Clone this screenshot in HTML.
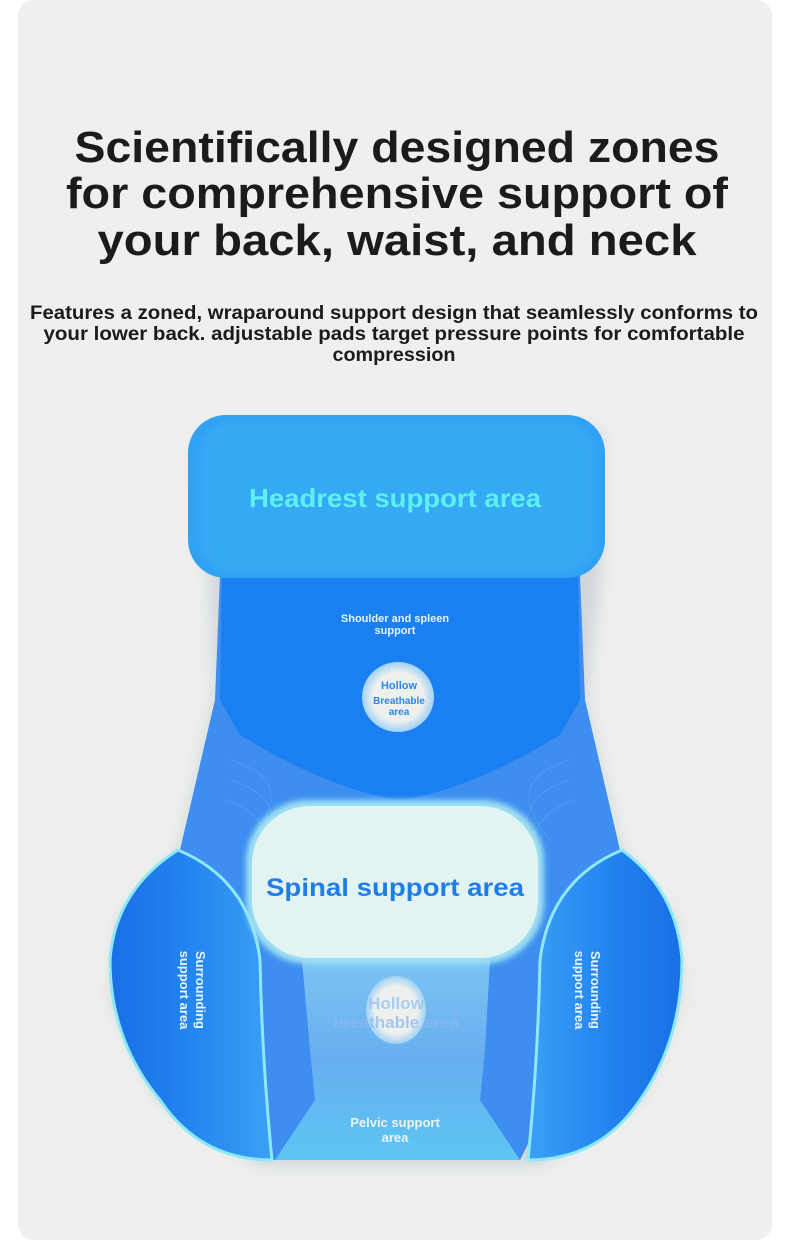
<!DOCTYPE html>
<html><head><meta charset="utf-8"><style>
html,body{margin:0;padding:0;background:#fff;}
svg{display:block}
text{font-family:"Liberation Sans",sans-serif;font-weight:bold}
</style></head><body>
<svg width="790" height="1242" viewBox="0 0 790 1242" xmlns="http://www.w3.org/2000/svg">
<defs>
<filter id="blur" x="-20%" y="-20%" width="140%" height="140%"><feGaussianBlur stdDeviation="8"/></filter>
<filter id="b3"><feGaussianBlur stdDeviation="3"/></filter>
<radialGradient id="hole" cx="50%" cy="50%" r="50%"><stop offset="0.7" stop-color="#eef0ee"/><stop offset="1" stop-color="#9fd2f5"/></radialGradient>
<linearGradient id="pelv" x1="0" y1="0" x2="0" y2="1"><stop offset="0" stop-color="#7cc4f4"/><stop offset="0.5" stop-color="#67aef0"/><stop offset="1" stop-color="#5cc6f2"/></linearGradient>
<linearGradient id="wing" x1="0" y1="0" x2="1" y2="0"><stop offset="0" stop-color="#1a6fe6"/><stop offset="0.4" stop-color="#1f80ee"/><stop offset="1" stop-color="#3aa0f5"/></linearGradient>
<linearGradient id="wingR" x1="1" y1="0" x2="0" y2="0"><stop offset="0" stop-color="#1a6fe6"/><stop offset="0.4" stop-color="#1f80ee"/><stop offset="1" stop-color="#3aa0f5"/></linearGradient>
</defs>
<rect x="18" y="0" width="754" height="1240" rx="16" fill="#eeefee"/>
<text x="397" y="162" font-size="44" text-anchor="middle" fill="#1b1b1b" textLength="645" lengthAdjust="spacingAndGlyphs">Scientifically designed zones</text>
<text x="397" y="208" font-size="44" text-anchor="middle" fill="#1b1b1b" textLength="662" lengthAdjust="spacingAndGlyphs">for comprehensive support of</text>
<text x="397" y="255" font-size="44" text-anchor="middle" fill="#1b1b1b" textLength="599" lengthAdjust="spacingAndGlyphs">your back, waist, and neck</text>
<text x="394" y="319" font-size="19" text-anchor="middle" fill="#1b1b1b" textLength="728" lengthAdjust="spacingAndGlyphs">Features a zoned, wraparound support design that seamlessly conforms to</text>
<text x="394" y="340" font-size="19" text-anchor="middle" fill="#1b1b1b" textLength="701" lengthAdjust="spacingAndGlyphs">your lower back. adjustable pads target pressure points for comfortable</text>
<text x="394" y="361" font-size="19" text-anchor="middle" fill="#1b1b1b" textLength="123" lengthAdjust="spacingAndGlyphs">compression</text>

<path d="M200 430 H600 V580 L585 700 L620 850 L675 920 L680 1000 L640 1100 L540 1165 H260 L160 1100 L112 1000 L120 920 L180 850 L215 700 L210 580 Z" fill="#b9c4cc" filter="url(#blur)" opacity="0.6"/>
<path d="M220 575 H580 L585 700 L620 850 L600 1000 L520 1160 H270 L190 1000 L180 850 L215 700 Z" fill="#3d8ef0"/>
<path d="M222 575 H578 L580 700 L560 735 Q470 790 400 800 Q330 790 240 735 L220 700 Z" fill="#1a7ff0"/>
<g stroke="#5aa4f5" stroke-width="1" fill="none" opacity="0.6">
<path d="M230 760 Q300 780 250 840"/><path d="M230 780 Q300 800 255 870"/><path d="M225 800 Q290 820 260 900"/>
<path d="M570 760 Q500 780 550 840"/><path d="M570 780 Q500 800 545 870"/><path d="M575 800 Q510 820 540 900"/>
</g>
<ellipse cx="398" cy="697" rx="36" ry="35" fill="url(#hole)"/>
<text x="399" y="689" font-size="11" text-anchor="middle" fill="#2a86e8" font-weight="normal">Hollow</text>
<text x="399" y="704" font-size="10" text-anchor="middle" fill="#2a86e8">Breathable</text>
<text x="399" y="715" font-size="10" text-anchor="middle" fill="#2a86e8">area</text>
<text x="395" y="622" font-size="11" text-anchor="middle" fill="#e8f4ff">Shoulder and spleen</text>
<text x="395" y="634" font-size="11" text-anchor="middle" fill="#e8f4ff">support</text>
<rect x="188" y="415" width="417" height="163" rx="38" fill="#30a2f3"/>
<rect x="200" y="422" width="395" height="150" rx="32" fill="#3cb0f6" opacity="0.5" filter="url(#b3)"/>
<text x="395" y="507" font-size="26" text-anchor="middle" fill="#5ef0f0" textLength="292" lengthAdjust="spacingAndGlyphs">Headrest support area</text>
<path d="M302 960 H490 L485 1050 L480 1100 L520 1160 H275 L315 1100 L310 1050 Z" fill="url(#pelv)"/>
<ellipse cx="396" cy="1010" rx="30" ry="34" fill="url(#hole)"/>
<text x="396" y="1009" font-size="17" text-anchor="middle" fill="#9dc6f2" opacity="0.85">Hollow</text>
<text x="396" y="1028" font-size="17" text-anchor="middle" fill="#8cbaf0" opacity="0.75">breathable area</text>
<text x="395" y="1127" font-size="13" text-anchor="middle" fill="#e8f4ff">Pelvic support</text>
<text x="395" y="1142" font-size="13" text-anchor="middle" fill="#e8f4ff">area</text>
<path d="M178 850 Q250 880 260 960 Q262 1060 272 1160 Q200 1160 160 1100 Q110 1040 110 960 Q115 890 178 850 Z" fill="url(#wing)" stroke="#8ee8f5" stroke-width="3"/>
<path d="M622 850 Q550 880 540 960 Q538 1060 528 1160 Q600 1160 640 1100 Q682 1040 682 960 Q677 890 622 850 Z" fill="url(#wingR)" stroke="#8ee8f5" stroke-width="3"/>
<text transform="translate(196,990) rotate(90)" font-size="13" text-anchor="middle" fill="#e8f4ff">Surrounding</text>
<text transform="translate(180,990) rotate(90)" font-size="13" text-anchor="middle" fill="#e8f4ff">support area</text>
<text transform="translate(591,990) rotate(90)" font-size="13" text-anchor="middle" fill="#e8f4ff">Surrounding</text>
<text transform="translate(575,990) rotate(90)" font-size="13" text-anchor="middle" fill="#e8f4ff">support area</text>
<rect x="246" y="800" width="298" height="164" rx="62" fill="#9fe0f2" filter="url(#b3)"/>
<rect x="252" y="806" width="286" height="152" rx="58" fill="#e2f3f1"/>
<text x="395" y="896" font-size="25" text-anchor="middle" fill="#1f7ee6" textLength="258" lengthAdjust="spacingAndGlyphs">Spinal support area</text>
</svg>
</body></html>
